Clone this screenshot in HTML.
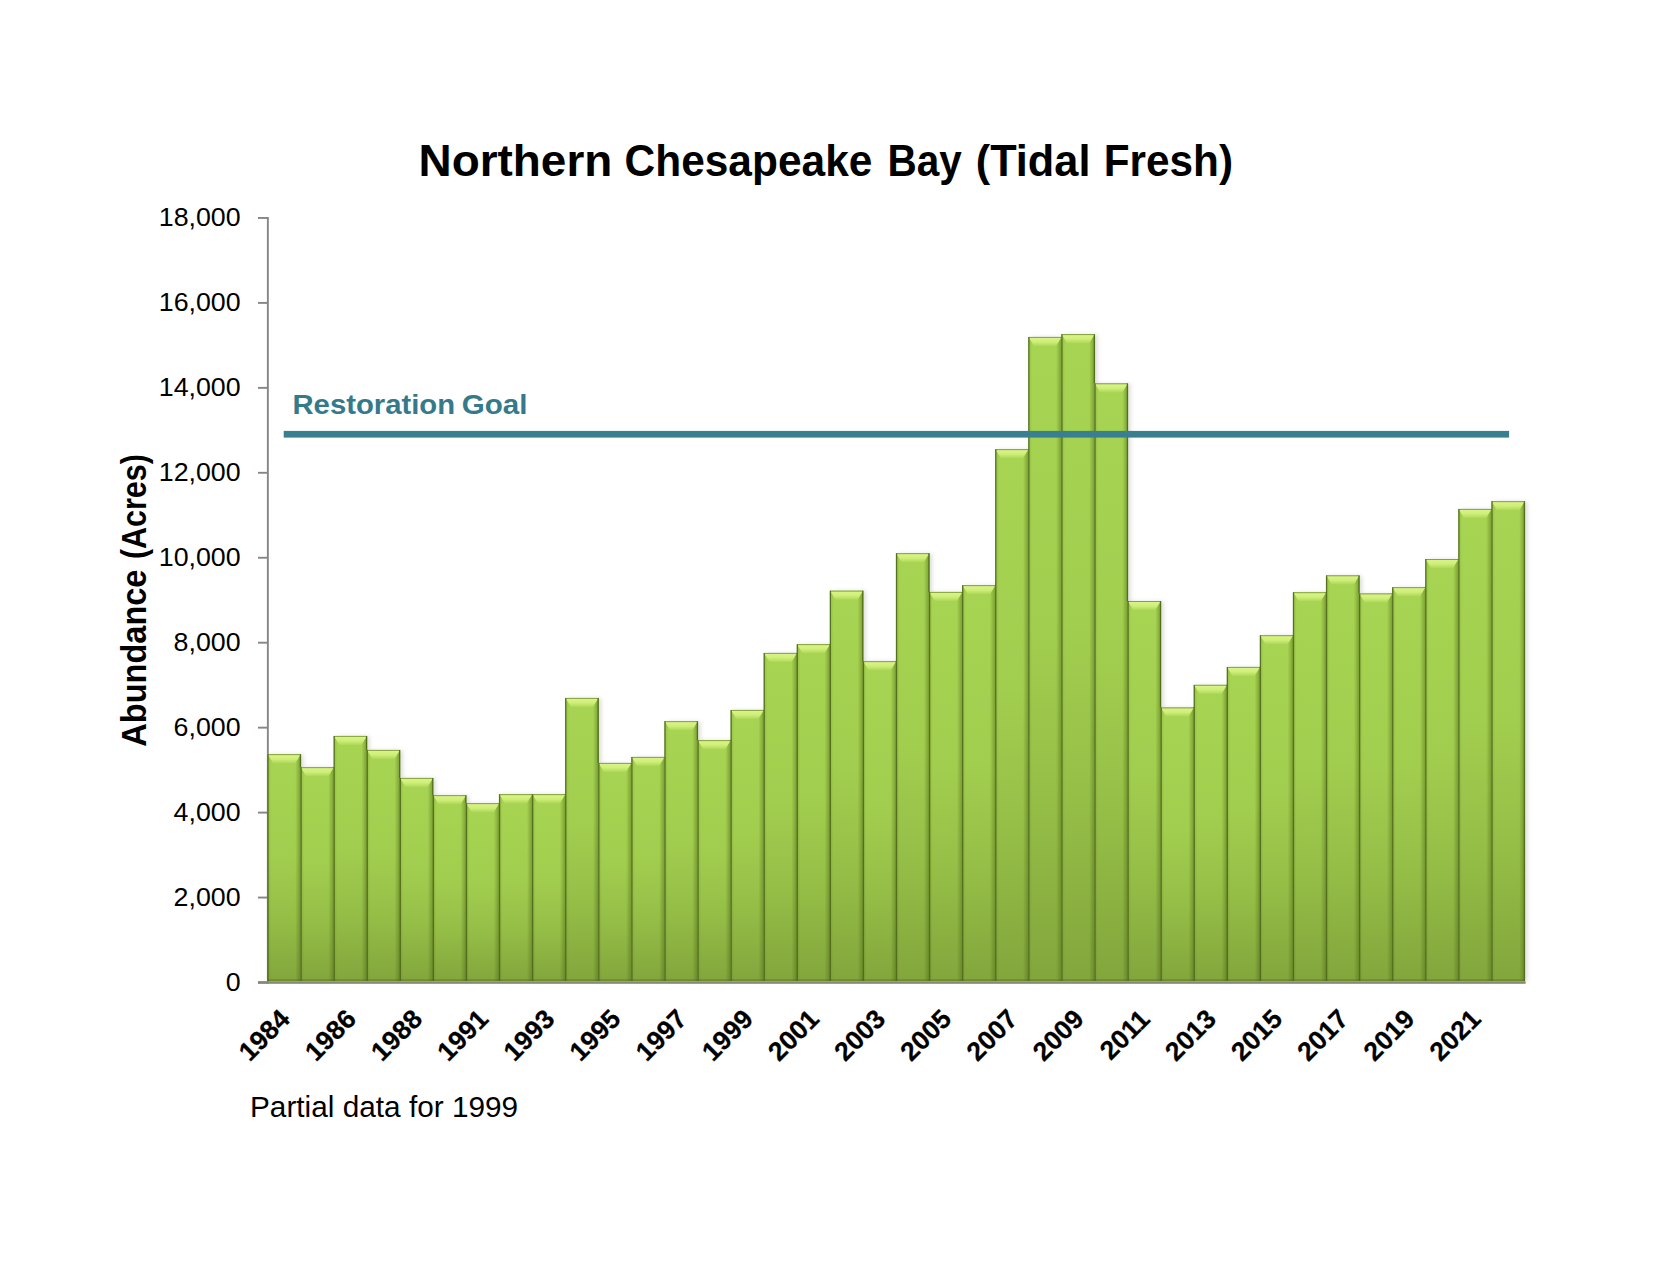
<!DOCTYPE html>
<html lang="en"><head><meta charset="utf-8"><title>Northern Chesapeake Bay (Tidal Fresh)</title>
<style>
html,body{margin:0;padding:0;background:#fff;}
body{width:1672px;height:1275px;overflow:hidden;}
svg{display:block;}
text{font-family:"Liberation Sans",sans-serif;}
.yl{font-size:26px;fill:#000;text-anchor:end;}
.xl{font-size:26.5px;font-weight:bold;fill:#000;text-anchor:end;stroke:#000;stroke-width:0.25px;}
</style></head><body>
<svg width="1672" height="1275" viewBox="0 0 1672 1275">
<defs>
<linearGradient id="g" x1="0" y1="0" x2="0" y2="1">
<stop offset="0" stop-color="#a7d452"/><stop offset="0.45" stop-color="#a2ce4f"/><stop offset="0.72" stop-color="#95be47"/><stop offset="1" stop-color="#83a63c"/>
</linearGradient>
<linearGradient id="lb" x1="0" y1="0" x2="1" y2="0">
<stop offset="0" stop-color="#56741a" stop-opacity="0.22"/><stop offset="1" stop-color="#56741a" stop-opacity="0"/>
</linearGradient>
<linearGradient id="rb" x1="0" y1="0" x2="1" y2="0">
<stop offset="0" stop-color="#4c6814" stop-opacity="0"/><stop offset="1" stop-color="#4c6814" stop-opacity="0.5"/>
</linearGradient>
<linearGradient id="tb" x1="0" y1="0" x2="0" y2="1">
<stop offset="0" stop-color="#dcf688"/><stop offset="0.55" stop-color="#cdee78"/><stop offset="1" stop-color="#acd857"/>
</linearGradient>
<filter id="sh" x="-5%" y="-5%" width="110%" height="110%"><feGaussianBlur stdDeviation="2.2"/></filter>
</defs>
<rect width="1672" height="1275" fill="#fff"/>

<g filter="url(#sh)" fill="#85857a" opacity="0.3">
<rect x="270.20" y="754.75" width="33.08" height="226.25"/>
<rect x="303.28" y="767.75" width="33.08" height="213.25"/>
<rect x="336.36" y="736.50" width="33.08" height="244.50"/>
<rect x="369.44" y="750.50" width="33.08" height="230.50"/>
<rect x="402.52" y="778.50" width="33.08" height="202.50"/>
<rect x="435.60" y="795.75" width="33.08" height="185.25"/>
<rect x="468.68" y="803.75" width="33.08" height="177.25"/>
<rect x="501.76" y="794.75" width="33.08" height="186.25"/>
<rect x="534.84" y="794.75" width="33.08" height="186.25"/>
<rect x="567.92" y="698.50" width="33.08" height="282.50"/>
<rect x="601.00" y="763.50" width="33.08" height="217.50"/>
<rect x="634.08" y="757.50" width="33.08" height="223.50"/>
<rect x="667.16" y="721.75" width="33.08" height="259.25"/>
<rect x="700.24" y="740.75" width="33.08" height="240.25"/>
<rect x="733.32" y="710.50" width="33.08" height="270.50"/>
<rect x="766.40" y="653.50" width="33.08" height="327.50"/>
<rect x="799.48" y="644.75" width="33.08" height="336.25"/>
<rect x="832.56" y="591.25" width="33.08" height="389.75"/>
<rect x="865.64" y="661.75" width="33.08" height="319.25"/>
<rect x="898.72" y="553.75" width="33.08" height="427.25"/>
<rect x="931.80" y="592.50" width="33.08" height="388.50"/>
<rect x="964.88" y="585.75" width="33.08" height="395.25"/>
<rect x="997.96" y="449.75" width="33.08" height="531.25"/>
<rect x="1031.04" y="337.50" width="33.08" height="643.50"/>
<rect x="1064.12" y="334.70" width="33.08" height="646.30"/>
<rect x="1097.20" y="383.90" width="33.08" height="597.10"/>
<rect x="1130.28" y="601.60" width="33.08" height="379.40"/>
<rect x="1163.36" y="708.00" width="33.08" height="273.00"/>
<rect x="1196.44" y="685.40" width="33.08" height="295.60"/>
<rect x="1229.52" y="667.50" width="33.08" height="313.50"/>
<rect x="1262.60" y="635.80" width="33.08" height="345.20"/>
<rect x="1295.68" y="592.80" width="33.08" height="388.20"/>
<rect x="1328.76" y="575.90" width="33.08" height="405.10"/>
<rect x="1361.84" y="594.00" width="33.08" height="387.00"/>
<rect x="1394.92" y="587.75" width="33.08" height="393.25"/>
<rect x="1428.00" y="559.60" width="33.08" height="421.40"/>
<rect x="1461.08" y="509.50" width="33.08" height="471.50"/>
<rect x="1494.16" y="501.75" width="33.08" height="479.25"/>
</g>
<g fill="#868686">
<rect x="266.9" y="217" width="1.9" height="766.6"/>
<rect x="258" y="217.00" width="10" height="1.9"/>
<rect x="258" y="301.95" width="10" height="1.9"/>
<rect x="258" y="386.90" width="10" height="1.9"/>
<rect x="258" y="471.85" width="10" height="1.9"/>
<rect x="258" y="556.80" width="10" height="1.9"/>
<rect x="258" y="641.75" width="10" height="1.9"/>
<rect x="258" y="726.70" width="10" height="1.9"/>
<rect x="258" y="811.65" width="10" height="1.9"/>
<rect x="258" y="896.60" width="10" height="1.9"/>
<rect x="258" y="981.55" width="10" height="1.9"/>
<rect x="258" y="981.2" width="1267.6" height="2.6" fill="#84897a"/>
</g>
<g><rect x="267.70" y="754.25" width="33.08" height="226.75" fill="url(#g)"/>
<rect x="267.70" y="754.25" width="3.5" height="226.75" fill="url(#lb)"/>
<rect x="295.28" y="754.25" width="5.5" height="226.75" fill="url(#rb)"/>
<path d="M267.70 754.25H300.78L295.28 763.25H273.20Z" fill="url(#tb)"/>
<path d="M267.70 754.65H300.78" fill="none" stroke="#6f8e2c" stroke-width="0.9" opacity="0.9"/>
<path d="M268.00 981.0V754.25M300.48 754.25V767.25" fill="none" stroke="#4c6818" stroke-width="1.3" opacity="0.9"/></g>
<g><rect x="300.78" y="767.25" width="33.08" height="213.75" fill="url(#g)"/>
<rect x="300.78" y="767.25" width="3.5" height="213.75" fill="url(#lb)"/>
<rect x="328.36" y="767.25" width="5.5" height="213.75" fill="url(#rb)"/>
<path d="M300.78 767.25H333.86L328.36 776.25H306.28Z" fill="url(#tb)"/>
<path d="M300.78 767.65H333.86" fill="none" stroke="#6f8e2c" stroke-width="0.9" opacity="0.9"/>
<path d="M301.08 981.0V767.25M333.56 767.25V767.75" fill="none" stroke="#4c6818" stroke-width="1.3" opacity="0.9"/></g>
<g><rect x="333.86" y="736.00" width="33.08" height="245.00" fill="url(#g)"/>
<rect x="333.86" y="736.00" width="3.5" height="245.00" fill="url(#lb)"/>
<rect x="361.44" y="736.00" width="5.5" height="245.00" fill="url(#rb)"/>
<path d="M333.86 736.00H366.94L361.44 745.00H339.36Z" fill="url(#tb)"/>
<path d="M333.86 736.40H366.94" fill="none" stroke="#6f8e2c" stroke-width="0.9" opacity="0.9"/>
<path d="M334.16 981.0V736.00M366.64 736.00V750.00" fill="none" stroke="#4c6818" stroke-width="1.3" opacity="0.9"/></g>
<g><rect x="366.94" y="750.00" width="33.08" height="231.00" fill="url(#g)"/>
<rect x="366.94" y="750.00" width="3.5" height="231.00" fill="url(#lb)"/>
<rect x="394.52" y="750.00" width="5.5" height="231.00" fill="url(#rb)"/>
<path d="M366.94 750.00H400.02L394.52 759.00H372.44Z" fill="url(#tb)"/>
<path d="M366.94 750.40H400.02" fill="none" stroke="#6f8e2c" stroke-width="0.9" opacity="0.9"/>
<path d="M367.24 981.0V750.00M399.72 750.00V778.00" fill="none" stroke="#4c6818" stroke-width="1.3" opacity="0.9"/></g>
<g><rect x="400.02" y="778.00" width="33.08" height="203.00" fill="url(#g)"/>
<rect x="400.02" y="778.00" width="3.5" height="203.00" fill="url(#lb)"/>
<rect x="427.60" y="778.00" width="5.5" height="203.00" fill="url(#rb)"/>
<path d="M400.02 778.00H433.10L427.60 787.00H405.52Z" fill="url(#tb)"/>
<path d="M400.02 778.40H433.10" fill="none" stroke="#6f8e2c" stroke-width="0.9" opacity="0.9"/>
<path d="M400.32 981.0V778.00M432.80 778.00V795.25" fill="none" stroke="#4c6818" stroke-width="1.3" opacity="0.9"/></g>
<g><rect x="433.10" y="795.25" width="33.08" height="185.75" fill="url(#g)"/>
<rect x="433.10" y="795.25" width="3.5" height="185.75" fill="url(#lb)"/>
<rect x="460.68" y="795.25" width="5.5" height="185.75" fill="url(#rb)"/>
<path d="M433.10 795.25H466.18L460.68 804.25H438.60Z" fill="url(#tb)"/>
<path d="M433.10 795.65H466.18" fill="none" stroke="#6f8e2c" stroke-width="0.9" opacity="0.9"/>
<path d="M433.40 981.0V795.25M465.88 795.25V803.25" fill="none" stroke="#4c6818" stroke-width="1.3" opacity="0.9"/></g>
<g><rect x="466.18" y="803.25" width="33.08" height="177.75" fill="url(#g)"/>
<rect x="466.18" y="803.25" width="3.5" height="177.75" fill="url(#lb)"/>
<rect x="493.76" y="803.25" width="5.5" height="177.75" fill="url(#rb)"/>
<path d="M466.18 803.25H499.26L493.76 812.25H471.68Z" fill="url(#tb)"/>
<path d="M466.18 803.65H499.26" fill="none" stroke="#6f8e2c" stroke-width="0.9" opacity="0.9"/>
<path d="M466.48 981.0V803.25M498.96 803.25V803.75" fill="none" stroke="#4c6818" stroke-width="1.3" opacity="0.9"/></g>
<g><rect x="499.26" y="794.25" width="33.08" height="186.75" fill="url(#g)"/>
<rect x="499.26" y="794.25" width="3.5" height="186.75" fill="url(#lb)"/>
<rect x="526.84" y="794.25" width="5.5" height="186.75" fill="url(#rb)"/>
<path d="M499.26 794.25H532.34L526.84 803.25H504.76Z" fill="url(#tb)"/>
<path d="M499.26 794.65H532.34" fill="none" stroke="#6f8e2c" stroke-width="0.9" opacity="0.9"/>
<path d="M499.56 981.0V794.25M532.04 794.25V794.75" fill="none" stroke="#4c6818" stroke-width="1.3" opacity="0.9"/></g>
<g><rect x="532.34" y="794.25" width="33.08" height="186.75" fill="url(#g)"/>
<rect x="532.34" y="794.25" width="3.5" height="186.75" fill="url(#lb)"/>
<rect x="559.92" y="794.25" width="5.5" height="186.75" fill="url(#rb)"/>
<path d="M532.34 794.25H565.42L559.92 803.25H537.84Z" fill="url(#tb)"/>
<path d="M532.34 794.65H565.42" fill="none" stroke="#6f8e2c" stroke-width="0.9" opacity="0.9"/>
<path d="M532.64 981.0V794.25M565.12 794.25V794.75" fill="none" stroke="#4c6818" stroke-width="1.3" opacity="0.9"/></g>
<g><rect x="565.42" y="698.00" width="33.08" height="283.00" fill="url(#g)"/>
<rect x="565.42" y="698.00" width="3.5" height="283.00" fill="url(#lb)"/>
<rect x="593.00" y="698.00" width="5.5" height="283.00" fill="url(#rb)"/>
<path d="M565.42 698.00H598.50L593.00 707.00H570.92Z" fill="url(#tb)"/>
<path d="M565.42 698.40H598.50" fill="none" stroke="#6f8e2c" stroke-width="0.9" opacity="0.9"/>
<path d="M565.72 981.0V698.00M598.20 698.00V763.00" fill="none" stroke="#4c6818" stroke-width="1.3" opacity="0.9"/></g>
<g><rect x="598.50" y="763.00" width="33.08" height="218.00" fill="url(#g)"/>
<rect x="598.50" y="763.00" width="3.5" height="218.00" fill="url(#lb)"/>
<rect x="626.08" y="763.00" width="5.5" height="218.00" fill="url(#rb)"/>
<path d="M598.50 763.00H631.58L626.08 772.00H604.00Z" fill="url(#tb)"/>
<path d="M598.50 763.40H631.58" fill="none" stroke="#6f8e2c" stroke-width="0.9" opacity="0.9"/>
<path d="M598.80 981.0V763.00M631.28 763.00V763.50" fill="none" stroke="#4c6818" stroke-width="1.3" opacity="0.9"/></g>
<g><rect x="631.58" y="757.00" width="33.08" height="224.00" fill="url(#g)"/>
<rect x="631.58" y="757.00" width="3.5" height="224.00" fill="url(#lb)"/>
<rect x="659.16" y="757.00" width="5.5" height="224.00" fill="url(#rb)"/>
<path d="M631.58 757.00H664.66L659.16 766.00H637.08Z" fill="url(#tb)"/>
<path d="M631.58 757.40H664.66" fill="none" stroke="#6f8e2c" stroke-width="0.9" opacity="0.9"/>
<path d="M631.88 981.0V757.00M664.36 757.00V757.50" fill="none" stroke="#4c6818" stroke-width="1.3" opacity="0.9"/></g>
<g><rect x="664.66" y="721.25" width="33.08" height="259.75" fill="url(#g)"/>
<rect x="664.66" y="721.25" width="3.5" height="259.75" fill="url(#lb)"/>
<rect x="692.24" y="721.25" width="5.5" height="259.75" fill="url(#rb)"/>
<path d="M664.66 721.25H697.74L692.24 730.25H670.16Z" fill="url(#tb)"/>
<path d="M664.66 721.65H697.74" fill="none" stroke="#6f8e2c" stroke-width="0.9" opacity="0.9"/>
<path d="M664.96 981.0V721.25M697.44 721.25V740.25" fill="none" stroke="#4c6818" stroke-width="1.3" opacity="0.9"/></g>
<g><rect x="697.74" y="740.25" width="33.08" height="240.75" fill="url(#g)"/>
<rect x="697.74" y="740.25" width="3.5" height="240.75" fill="url(#lb)"/>
<rect x="725.32" y="740.25" width="5.5" height="240.75" fill="url(#rb)"/>
<path d="M697.74 740.25H730.82L725.32 749.25H703.24Z" fill="url(#tb)"/>
<path d="M697.74 740.65H730.82" fill="none" stroke="#6f8e2c" stroke-width="0.9" opacity="0.9"/>
<path d="M698.04 981.0V740.25M730.52 740.25V740.75" fill="none" stroke="#4c6818" stroke-width="1.3" opacity="0.9"/></g>
<g><rect x="730.82" y="710.00" width="33.08" height="271.00" fill="url(#g)"/>
<rect x="730.82" y="710.00" width="3.5" height="271.00" fill="url(#lb)"/>
<rect x="758.40" y="710.00" width="5.5" height="271.00" fill="url(#rb)"/>
<path d="M730.82 710.00H763.90L758.40 719.00H736.32Z" fill="url(#tb)"/>
<path d="M730.82 710.40H763.90" fill="none" stroke="#6f8e2c" stroke-width="0.9" opacity="0.9"/>
<path d="M731.12 981.0V710.00M763.60 710.00V710.50" fill="none" stroke="#4c6818" stroke-width="1.3" opacity="0.9"/></g>
<g><rect x="763.90" y="653.00" width="33.08" height="328.00" fill="url(#g)"/>
<rect x="763.90" y="653.00" width="3.5" height="328.00" fill="url(#lb)"/>
<rect x="791.48" y="653.00" width="5.5" height="328.00" fill="url(#rb)"/>
<path d="M763.90 653.00H796.98L791.48 662.00H769.40Z" fill="url(#tb)"/>
<path d="M763.90 653.40H796.98" fill="none" stroke="#6f8e2c" stroke-width="0.9" opacity="0.9"/>
<path d="M764.20 981.0V653.00M796.68 653.00V653.50" fill="none" stroke="#4c6818" stroke-width="1.3" opacity="0.9"/></g>
<g><rect x="796.98" y="644.25" width="33.08" height="336.75" fill="url(#g)"/>
<rect x="796.98" y="644.25" width="3.5" height="336.75" fill="url(#lb)"/>
<rect x="824.56" y="644.25" width="5.5" height="336.75" fill="url(#rb)"/>
<path d="M796.98 644.25H830.06L824.56 653.25H802.48Z" fill="url(#tb)"/>
<path d="M796.98 644.65H830.06" fill="none" stroke="#6f8e2c" stroke-width="0.9" opacity="0.9"/>
<path d="M797.28 981.0V644.25M829.76 644.25V644.75" fill="none" stroke="#4c6818" stroke-width="1.3" opacity="0.9"/></g>
<g><rect x="830.06" y="590.75" width="33.08" height="390.25" fill="url(#g)"/>
<rect x="830.06" y="590.75" width="3.5" height="390.25" fill="url(#lb)"/>
<rect x="857.64" y="590.75" width="5.5" height="390.25" fill="url(#rb)"/>
<path d="M830.06 590.75H863.14L857.64 599.75H835.56Z" fill="url(#tb)"/>
<path d="M830.06 591.15H863.14" fill="none" stroke="#6f8e2c" stroke-width="0.9" opacity="0.9"/>
<path d="M830.36 981.0V590.75M862.84 590.75V661.25" fill="none" stroke="#4c6818" stroke-width="1.3" opacity="0.9"/></g>
<g><rect x="863.14" y="661.25" width="33.08" height="319.75" fill="url(#g)"/>
<rect x="863.14" y="661.25" width="3.5" height="319.75" fill="url(#lb)"/>
<rect x="890.72" y="661.25" width="5.5" height="319.75" fill="url(#rb)"/>
<path d="M863.14 661.25H896.22L890.72 670.25H868.64Z" fill="url(#tb)"/>
<path d="M863.14 661.65H896.22" fill="none" stroke="#6f8e2c" stroke-width="0.9" opacity="0.9"/>
<path d="M863.44 981.0V661.25M895.92 661.25V661.75" fill="none" stroke="#4c6818" stroke-width="1.3" opacity="0.9"/></g>
<g><rect x="896.22" y="553.25" width="33.08" height="427.75" fill="url(#g)"/>
<rect x="896.22" y="553.25" width="3.5" height="427.75" fill="url(#lb)"/>
<rect x="923.80" y="553.25" width="5.5" height="427.75" fill="url(#rb)"/>
<path d="M896.22 553.25H929.30L923.80 562.25H901.72Z" fill="url(#tb)"/>
<path d="M896.22 553.65H929.30" fill="none" stroke="#6f8e2c" stroke-width="0.9" opacity="0.9"/>
<path d="M896.52 981.0V553.25M929.00 553.25V592.00" fill="none" stroke="#4c6818" stroke-width="1.3" opacity="0.9"/></g>
<g><rect x="929.30" y="592.00" width="33.08" height="389.00" fill="url(#g)"/>
<rect x="929.30" y="592.00" width="3.5" height="389.00" fill="url(#lb)"/>
<rect x="956.88" y="592.00" width="5.5" height="389.00" fill="url(#rb)"/>
<path d="M929.30 592.00H962.38L956.88 601.00H934.80Z" fill="url(#tb)"/>
<path d="M929.30 592.40H962.38" fill="none" stroke="#6f8e2c" stroke-width="0.9" opacity="0.9"/>
<path d="M929.60 981.0V592.00M962.08 592.00V592.50" fill="none" stroke="#4c6818" stroke-width="1.3" opacity="0.9"/></g>
<g><rect x="962.38" y="585.25" width="33.08" height="395.75" fill="url(#g)"/>
<rect x="962.38" y="585.25" width="3.5" height="395.75" fill="url(#lb)"/>
<rect x="989.96" y="585.25" width="5.5" height="395.75" fill="url(#rb)"/>
<path d="M962.38 585.25H995.46L989.96 594.25H967.88Z" fill="url(#tb)"/>
<path d="M962.38 585.65H995.46" fill="none" stroke="#6f8e2c" stroke-width="0.9" opacity="0.9"/>
<path d="M962.68 981.0V585.25M995.16 585.25V585.75" fill="none" stroke="#4c6818" stroke-width="1.3" opacity="0.9"/></g>
<g><rect x="995.46" y="449.25" width="33.08" height="531.75" fill="url(#g)"/>
<rect x="995.46" y="449.25" width="3.5" height="531.75" fill="url(#lb)"/>
<rect x="1023.04" y="449.25" width="5.5" height="531.75" fill="url(#rb)"/>
<path d="M995.46 449.25H1028.54L1023.04 458.25H1000.96Z" fill="url(#tb)"/>
<path d="M995.46 449.65H1028.54" fill="none" stroke="#6f8e2c" stroke-width="0.9" opacity="0.9"/>
<path d="M995.76 981.0V449.25M1028.24 449.25V449.75" fill="none" stroke="#4c6818" stroke-width="1.3" opacity="0.9"/></g>
<g><rect x="1028.54" y="337.00" width="33.08" height="644.00" fill="url(#g)"/>
<rect x="1028.54" y="337.00" width="3.5" height="644.00" fill="url(#lb)"/>
<rect x="1056.12" y="337.00" width="5.5" height="644.00" fill="url(#rb)"/>
<path d="M1028.54 337.00H1061.62L1056.12 346.00H1034.04Z" fill="url(#tb)"/>
<path d="M1028.54 337.40H1061.62" fill="none" stroke="#6f8e2c" stroke-width="0.9" opacity="0.9"/>
<path d="M1028.84 981.0V337.00M1061.32 337.00V337.50" fill="none" stroke="#4c6818" stroke-width="1.3" opacity="0.9"/></g>
<g><rect x="1061.62" y="334.20" width="33.08" height="646.80" fill="url(#g)"/>
<rect x="1061.62" y="334.20" width="3.5" height="646.80" fill="url(#lb)"/>
<rect x="1089.20" y="334.20" width="5.5" height="646.80" fill="url(#rb)"/>
<path d="M1061.62 334.20H1094.70L1089.20 343.20H1067.12Z" fill="url(#tb)"/>
<path d="M1061.62 334.60H1094.70" fill="none" stroke="#6f8e2c" stroke-width="0.9" opacity="0.9"/>
<path d="M1061.92 981.0V334.20M1094.40 334.20V383.40" fill="none" stroke="#4c6818" stroke-width="1.3" opacity="0.9"/></g>
<g><rect x="1094.70" y="383.40" width="33.08" height="597.60" fill="url(#g)"/>
<rect x="1094.70" y="383.40" width="3.5" height="597.60" fill="url(#lb)"/>
<rect x="1122.28" y="383.40" width="5.5" height="597.60" fill="url(#rb)"/>
<path d="M1094.70 383.40H1127.78L1122.28 392.40H1100.20Z" fill="url(#tb)"/>
<path d="M1094.70 383.80H1127.78" fill="none" stroke="#6f8e2c" stroke-width="0.9" opacity="0.9"/>
<path d="M1095.00 981.0V383.40M1127.48 383.40V601.10" fill="none" stroke="#4c6818" stroke-width="1.3" opacity="0.9"/></g>
<g><rect x="1127.78" y="601.10" width="33.08" height="379.90" fill="url(#g)"/>
<rect x="1127.78" y="601.10" width="3.5" height="379.90" fill="url(#lb)"/>
<rect x="1155.36" y="601.10" width="5.5" height="379.90" fill="url(#rb)"/>
<path d="M1127.78 601.10H1160.86L1155.36 610.10H1133.28Z" fill="url(#tb)"/>
<path d="M1127.78 601.50H1160.86" fill="none" stroke="#6f8e2c" stroke-width="0.9" opacity="0.9"/>
<path d="M1128.08 981.0V601.10M1160.56 601.10V707.50" fill="none" stroke="#4c6818" stroke-width="1.3" opacity="0.9"/></g>
<g><rect x="1160.86" y="707.50" width="33.08" height="273.50" fill="url(#g)"/>
<rect x="1160.86" y="707.50" width="3.5" height="273.50" fill="url(#lb)"/>
<rect x="1188.44" y="707.50" width="5.5" height="273.50" fill="url(#rb)"/>
<path d="M1160.86 707.50H1193.94L1188.44 716.50H1166.36Z" fill="url(#tb)"/>
<path d="M1160.86 707.90H1193.94" fill="none" stroke="#6f8e2c" stroke-width="0.9" opacity="0.9"/>
<path d="M1161.16 981.0V707.50M1193.64 707.50V708.00" fill="none" stroke="#4c6818" stroke-width="1.3" opacity="0.9"/></g>
<g><rect x="1193.94" y="684.90" width="33.08" height="296.10" fill="url(#g)"/>
<rect x="1193.94" y="684.90" width="3.5" height="296.10" fill="url(#lb)"/>
<rect x="1221.52" y="684.90" width="5.5" height="296.10" fill="url(#rb)"/>
<path d="M1193.94 684.90H1227.02L1221.52 693.90H1199.44Z" fill="url(#tb)"/>
<path d="M1193.94 685.30H1227.02" fill="none" stroke="#6f8e2c" stroke-width="0.9" opacity="0.9"/>
<path d="M1194.24 981.0V684.90M1226.72 684.90V685.40" fill="none" stroke="#4c6818" stroke-width="1.3" opacity="0.9"/></g>
<g><rect x="1227.02" y="667.00" width="33.08" height="314.00" fill="url(#g)"/>
<rect x="1227.02" y="667.00" width="3.5" height="314.00" fill="url(#lb)"/>
<rect x="1254.60" y="667.00" width="5.5" height="314.00" fill="url(#rb)"/>
<path d="M1227.02 667.00H1260.10L1254.60 676.00H1232.52Z" fill="url(#tb)"/>
<path d="M1227.02 667.40H1260.10" fill="none" stroke="#6f8e2c" stroke-width="0.9" opacity="0.9"/>
<path d="M1227.32 981.0V667.00M1259.80 667.00V667.50" fill="none" stroke="#4c6818" stroke-width="1.3" opacity="0.9"/></g>
<g><rect x="1260.10" y="635.30" width="33.08" height="345.70" fill="url(#g)"/>
<rect x="1260.10" y="635.30" width="3.5" height="345.70" fill="url(#lb)"/>
<rect x="1287.68" y="635.30" width="5.5" height="345.70" fill="url(#rb)"/>
<path d="M1260.10 635.30H1293.18L1287.68 644.30H1265.60Z" fill="url(#tb)"/>
<path d="M1260.10 635.70H1293.18" fill="none" stroke="#6f8e2c" stroke-width="0.9" opacity="0.9"/>
<path d="M1260.40 981.0V635.30M1292.88 635.30V635.80" fill="none" stroke="#4c6818" stroke-width="1.3" opacity="0.9"/></g>
<g><rect x="1293.18" y="592.30" width="33.08" height="388.70" fill="url(#g)"/>
<rect x="1293.18" y="592.30" width="3.5" height="388.70" fill="url(#lb)"/>
<rect x="1320.76" y="592.30" width="5.5" height="388.70" fill="url(#rb)"/>
<path d="M1293.18 592.30H1326.26L1320.76 601.30H1298.68Z" fill="url(#tb)"/>
<path d="M1293.18 592.70H1326.26" fill="none" stroke="#6f8e2c" stroke-width="0.9" opacity="0.9"/>
<path d="M1293.48 981.0V592.30M1325.96 592.30V592.80" fill="none" stroke="#4c6818" stroke-width="1.3" opacity="0.9"/></g>
<g><rect x="1326.26" y="575.40" width="33.08" height="405.60" fill="url(#g)"/>
<rect x="1326.26" y="575.40" width="3.5" height="405.60" fill="url(#lb)"/>
<rect x="1353.84" y="575.40" width="5.5" height="405.60" fill="url(#rb)"/>
<path d="M1326.26 575.40H1359.34L1353.84 584.40H1331.76Z" fill="url(#tb)"/>
<path d="M1326.26 575.80H1359.34" fill="none" stroke="#6f8e2c" stroke-width="0.9" opacity="0.9"/>
<path d="M1326.56 981.0V575.40M1359.04 575.40V593.50" fill="none" stroke="#4c6818" stroke-width="1.3" opacity="0.9"/></g>
<g><rect x="1359.34" y="593.50" width="33.08" height="387.50" fill="url(#g)"/>
<rect x="1359.34" y="593.50" width="3.5" height="387.50" fill="url(#lb)"/>
<rect x="1386.92" y="593.50" width="5.5" height="387.50" fill="url(#rb)"/>
<path d="M1359.34 593.50H1392.42L1386.92 602.50H1364.84Z" fill="url(#tb)"/>
<path d="M1359.34 593.90H1392.42" fill="none" stroke="#6f8e2c" stroke-width="0.9" opacity="0.9"/>
<path d="M1359.64 981.0V593.50M1392.12 593.50V594.00" fill="none" stroke="#4c6818" stroke-width="1.3" opacity="0.9"/></g>
<g><rect x="1392.42" y="587.25" width="33.08" height="393.75" fill="url(#g)"/>
<rect x="1392.42" y="587.25" width="3.5" height="393.75" fill="url(#lb)"/>
<rect x="1420.00" y="587.25" width="5.5" height="393.75" fill="url(#rb)"/>
<path d="M1392.42 587.25H1425.50L1420.00 596.25H1397.92Z" fill="url(#tb)"/>
<path d="M1392.42 587.65H1425.50" fill="none" stroke="#6f8e2c" stroke-width="0.9" opacity="0.9"/>
<path d="M1392.72 981.0V587.25M1425.20 587.25V587.75" fill="none" stroke="#4c6818" stroke-width="1.3" opacity="0.9"/></g>
<g><rect x="1425.50" y="559.10" width="33.08" height="421.90" fill="url(#g)"/>
<rect x="1425.50" y="559.10" width="3.5" height="421.90" fill="url(#lb)"/>
<rect x="1453.08" y="559.10" width="5.5" height="421.90" fill="url(#rb)"/>
<path d="M1425.50 559.10H1458.58L1453.08 568.10H1431.00Z" fill="url(#tb)"/>
<path d="M1425.50 559.50H1458.58" fill="none" stroke="#6f8e2c" stroke-width="0.9" opacity="0.9"/>
<path d="M1425.80 981.0V559.10M1458.28 559.10V559.60" fill="none" stroke="#4c6818" stroke-width="1.3" opacity="0.9"/></g>
<g><rect x="1458.58" y="509.00" width="33.08" height="472.00" fill="url(#g)"/>
<rect x="1458.58" y="509.00" width="3.5" height="472.00" fill="url(#lb)"/>
<rect x="1486.16" y="509.00" width="5.5" height="472.00" fill="url(#rb)"/>
<path d="M1458.58 509.00H1491.66L1486.16 518.00H1464.08Z" fill="url(#tb)"/>
<path d="M1458.58 509.40H1491.66" fill="none" stroke="#6f8e2c" stroke-width="0.9" opacity="0.9"/>
<path d="M1458.88 981.0V509.00M1491.36 509.00V509.50" fill="none" stroke="#4c6818" stroke-width="1.3" opacity="0.9"/></g>
<g><rect x="1491.66" y="501.25" width="33.08" height="479.75" fill="url(#g)"/>
<rect x="1491.66" y="501.25" width="3.5" height="479.75" fill="url(#lb)"/>
<rect x="1519.24" y="501.25" width="5.5" height="479.75" fill="url(#rb)"/>
<path d="M1491.66 501.25H1524.74L1519.24 510.25H1497.16Z" fill="url(#tb)"/>
<path d="M1491.66 501.65H1524.74" fill="none" stroke="#6f8e2c" stroke-width="0.9" opacity="0.9"/>
<path d="M1491.96 981.0V501.25M1524.44 501.25V981.00" fill="none" stroke="#4c6818" stroke-width="1.3" opacity="0.9"/></g>
<rect x="267.70" y="979.2" width="1257.04" height="1.8" fill="#4f6b18" opacity="0.4"/>
<rect x="283.7" y="430.9" width="1225.4" height="6.7" fill="#38808f"/>
<text id="title" y="175.5" fill="#000" font-size="44.3" font-weight="bold"><tspan x="418.50" textLength="193.80" lengthAdjust="spacingAndGlyphs">Northern</tspan> <tspan x="624.55" textLength="247.81" lengthAdjust="spacingAndGlyphs">Chesapeake</tspan> <tspan x="887.57" textLength="74.27" lengthAdjust="spacingAndGlyphs">Bay</tspan> <tspan x="975.77" textLength="114.67" lengthAdjust="spacingAndGlyphs">(Tidal</tspan> <tspan x="1103.71" textLength="129.36" lengthAdjust="spacingAndGlyphs">Fresh)</tspan></text>
<text id="rg" y="413.8" fill="#357a8b" font-size="28.2" font-weight="bold"><tspan x="292.49" textLength="162.53" lengthAdjust="spacingAndGlyphs">Restoration</tspan> <tspan x="461.82" textLength="65.69" lengthAdjust="spacingAndGlyphs">Goal</tspan></text>
<text id="yt" transform="translate(146.2 0) rotate(-90)" y="0" fill="#000" font-size="35.3" font-weight="bold"><tspan x="-746.65" textLength="177.10" lengthAdjust="spacingAndGlyphs">Abundance</tspan> <tspan x="-559.12" textLength="104.93" lengthAdjust="spacingAndGlyphs">(Acres)</tspan></text>
<text class="yl" transform="translate(240.6 226.1) scale(1.03 1)">18,000</text>
<text class="yl" transform="translate(240.6 311.1) scale(1.03 1)">16,000</text>
<text class="yl" transform="translate(240.6 396.0) scale(1.03 1)">14,000</text>
<text class="yl" transform="translate(240.6 480.9) scale(1.03 1)">12,000</text>
<text class="yl" transform="translate(240.6 565.9) scale(1.03 1)">10,000</text>
<text class="yl" transform="translate(240.6 650.9) scale(1.03 1)">8,000</text>
<text class="yl" transform="translate(240.6 735.8) scale(1.03 1)">6,000</text>
<text class="yl" transform="translate(240.6 820.8) scale(1.03 1)">4,000</text>
<text class="yl" transform="translate(240.6 905.7) scale(1.03 1)">2,000</text>
<text class="yl" transform="translate(240.6 990.7) scale(1.03 1)">0</text>
<text class="xl" transform="translate(291.4 1020.7) rotate(-45)">1984</text>
<text class="xl" transform="translate(357.6 1020.7) rotate(-45)">1986</text>
<text class="xl" transform="translate(423.8 1020.7) rotate(-45)">1988</text>
<text class="xl" transform="translate(489.9 1020.7) rotate(-45)">1991</text>
<text class="xl" transform="translate(556.1 1020.7) rotate(-45)">1993</text>
<text class="xl" transform="translate(622.2 1020.7) rotate(-45)">1995</text>
<text class="xl" transform="translate(688.4 1020.7) rotate(-45)">1997</text>
<text class="xl" transform="translate(754.6 1020.7) rotate(-45)">1999</text>
<text class="xl" transform="translate(820.7 1020.7) rotate(-45)">2001</text>
<text class="xl" transform="translate(886.9 1020.7) rotate(-45)">2003</text>
<text class="xl" transform="translate(953.0 1020.7) rotate(-45)">2005</text>
<text class="xl" transform="translate(1019.2 1020.7) rotate(-45)">2007</text>
<text class="xl" transform="translate(1085.4 1020.7) rotate(-45)">2009</text>
<text class="xl" transform="translate(1151.5 1020.7) rotate(-45)">2011</text>
<text class="xl" transform="translate(1217.7 1020.7) rotate(-45)">2013</text>
<text class="xl" transform="translate(1283.8 1020.7) rotate(-45)">2015</text>
<text class="xl" transform="translate(1350.0 1020.7) rotate(-45)">2017</text>
<text class="xl" transform="translate(1416.2 1020.7) rotate(-45)">2019</text>
<text class="xl" transform="translate(1482.3 1020.7) rotate(-45)">2021</text>
<text id="note" font-size="29.2" transform="translate(250 1116.8) scale(1.02 1)" fill="#000">Partial data for 1999</text>
</svg></body></html>
